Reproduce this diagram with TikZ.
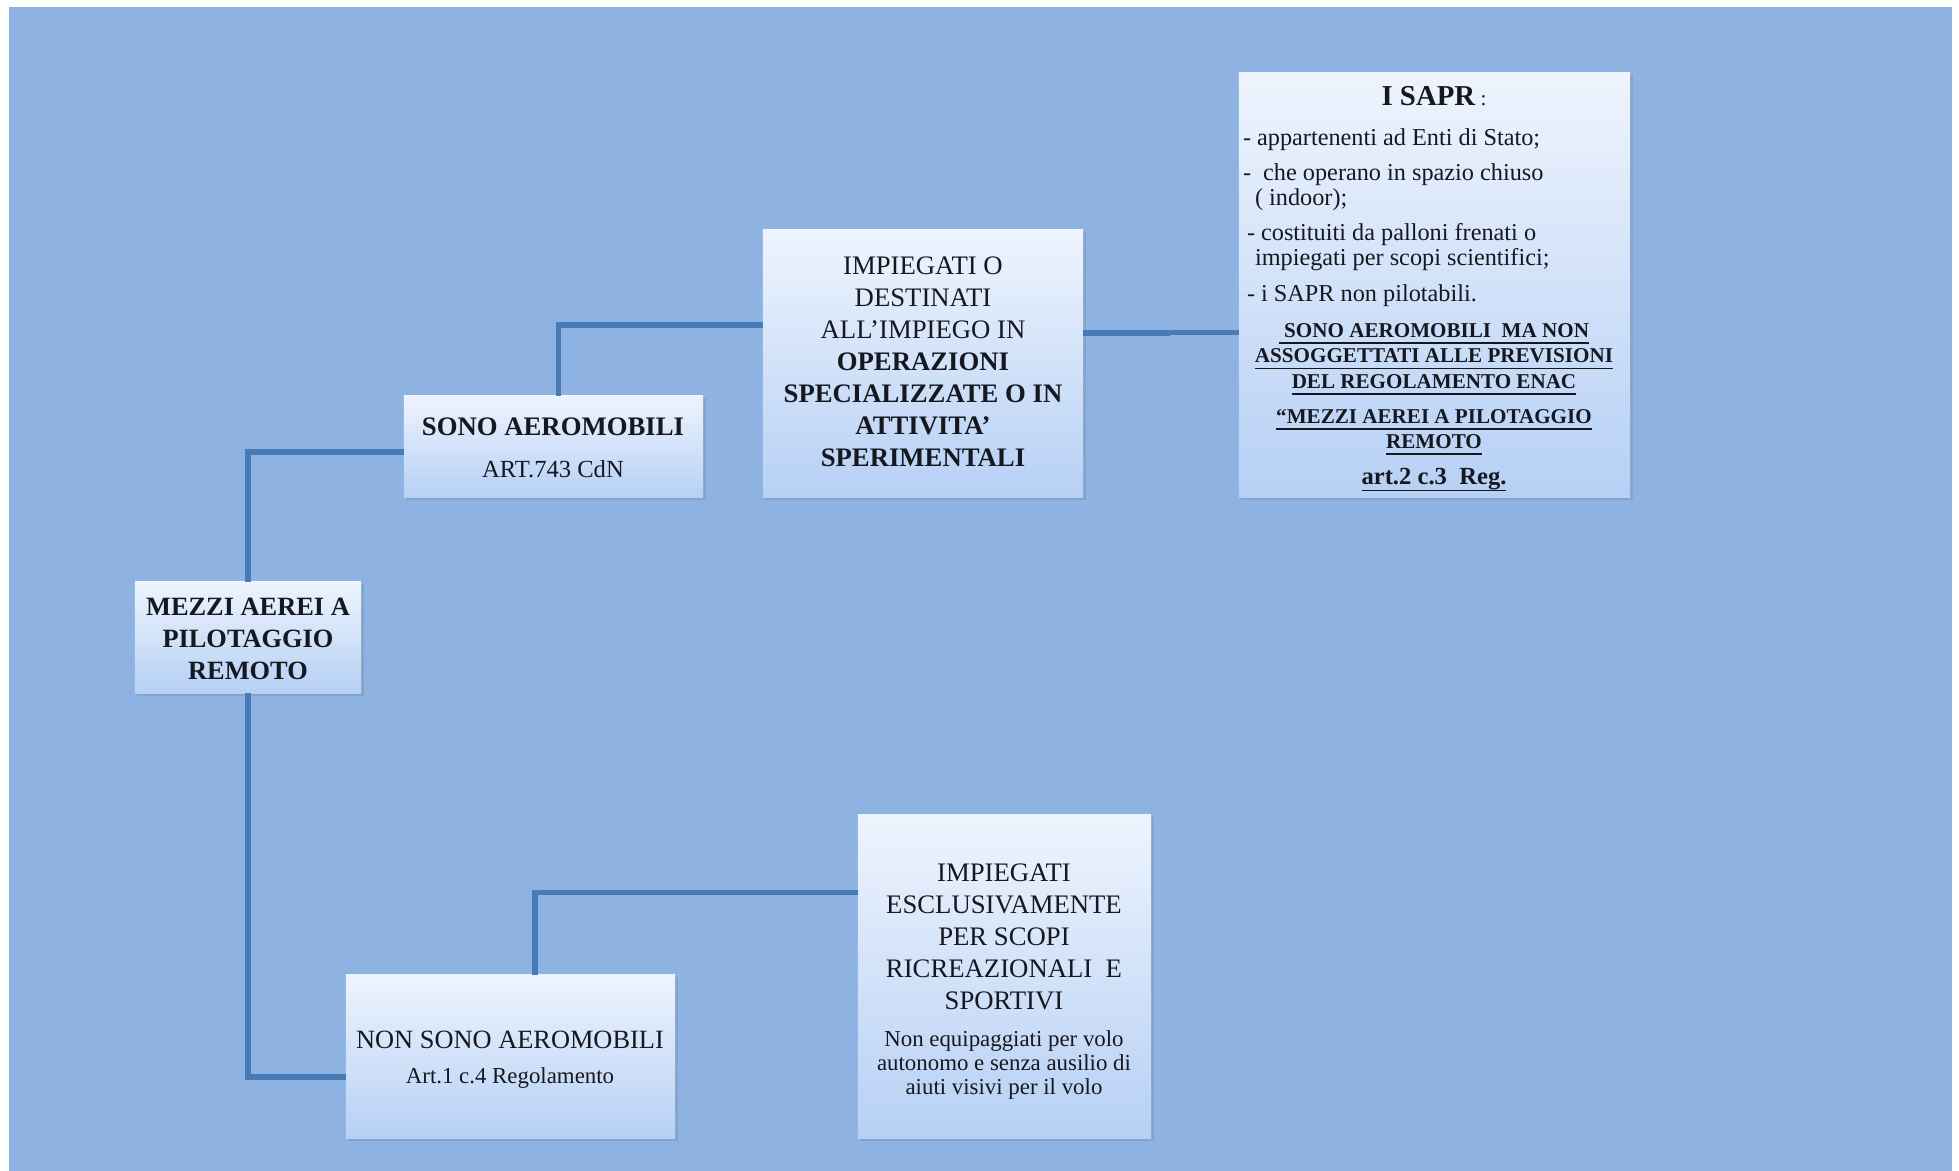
\documentclass[tikz,border=0pt]{standalone}
\usepackage{fontspec}
\setmainfont{Liberation Serif}
\usetikzlibrary{shadows}
\definecolor{bg}{RGB}{142,178,225}
\definecolor{boxtop}{RGB}{238,244,253}
\definecolor{boxbot}{RGB}{182,208,245}
\definecolor{linecol}{RGB}{72,122,182}
\definecolor{ink}{RGB}{22,24,32}
\begin{document}
\begin{tikzpicture}[x=0.01cm,y=-0.01cm,
  box/.style={rectangle, inner sep=0pt, outer sep=0pt, top color=boxtop, bottom color=boxbot, draw=none,
    drop shadow={opacity=0.18, shadow xshift=0.025cm, shadow yshift=-0.025cm, fill=black!60}},
  conn/.style={draw=linecol, line width=1.45pt},
  txt/.style={text=ink, inner sep=0pt, outer sep=0pt, align=center},
  big/.style={font=\fontsize{7.6pt}{9.1pt}\selectfont},
  small/.style={font=\fontsize{6.9pt}{7.1pt}\selectfont},
  ubold/.style={font=\bfseries\fontsize{6pt}{7pt}\selectfont}]
\useasboundingbox (0,0) rectangle (1959,1171);
\fill[white] (0,0) rectangle (1959,1171);
\fill[bg] (9,7) rectangle (1952,1171);

% boxes
\node[box, minimum width=2.26cm, minimum height=1.11cm] (mezzi) at (248,637.5) {};
\node[box, minimum width=2.99cm, minimum height=1.01cm] (sono) at (553.5,446.5) {};
\node[box, minimum width=3.20cm, minimum height=2.67cm] (impO) at (923,363.5) {};
\node[box, minimum width=3.91cm, minimum height=4.25cm] (sapr) at (1434.5,285) {};
\node[box, minimum width=3.29cm, minimum height=1.63cm] (nonsono) at (510.5,1056.5) {};
\node[box, minimum width=2.93cm, minimum height=3.23cm] (ricre) at (1004.5,976.5) {};

% connectors
\draw[conn] (mezzi.north) |- ([yshift=-0.055cm]sono.west);
\draw[conn] ([xshift=0.05cm]sono.north) |- ([yshift=0.385cm]impO.west);
\draw[conn] ([yshift=0.305cm]impO.east) -- ++(0.84cm,0) |- ([yshift=-0.475cm]sapr.west);
\draw[conn] (mezzi.south) |- ([yshift=-0.205cm]nonsono.west);
\draw[conn] ([xshift=0.245cm]nonsono.north) |- ([yshift=0.835cm]ricre.west);

% texts
\node[txt, font=\bfseries\fontsize{7.5pt}{9.1pt}\selectfont] (tmezzi) at (248,639) {MEZZI AEREI A\\PILOTAGGIO\\REMOTO};

\node[txt, font=\bfseries\fontsize{7.6pt}{9pt}\selectfont] (tsono1) at (553,427) {SONO AEROMOBILI};
\node[txt, font=\fontsize{7pt}{8pt}\selectfont] (tsono2) at (553,469) {ART.743 CdN};

\node[txt, big] (timpO) at (923,362) {IMPIEGATI O\\DESTINATI\\ALL’IMPIEGO IN\\\textbf{OPERAZIONI}\\\textbf{SPECIALIZZATE O IN}\\\textbf{ATTIVITA’}\\\textbf{SPERIMENTALI}};

\node[txt, anchor=base, font=\bfseries\fontsize{8.2pt}{9pt}\selectfont] (tsapr) at (1434,106) {I SAPR{\mdseries\fontsize{6pt}{7pt}\selectfont\ :}};
\node[txt, anchor=base west, small] (s1) at (1243,146) {- appartenenti ad Enti di Stato;};
\node[txt, anchor=base west, small] (s2) at (1243,181) {-\ \ che operano in spazio chiuso};
\node[txt, anchor=base west, small] (s3) at (1255,206) {( indoor);};
\node[txt, anchor=base west, small] (s4) at (1247,241) {- costituiti da palloni frenati o};
\node[txt, anchor=base west, small] (s5) at (1255,266) {impiegati per scopi scientifici;};
\node[txt, anchor=base west, small] (s6) at (1247,302) {- i SAPR non pilotabili.};
\node[txt, anchor=base, ubold] (u1) at (1434,338) {\underline{\ SONO AEROMOBILI\ \ MA NON}};
\node[txt, anchor=base, ubold] (u2) at (1434,363) {\underline{ASSOGGETTATI ALLE PREVISIONI}};
\node[txt, anchor=base, ubold] (u3) at (1434,389) {\underline{DEL REGOLAMENTO ENAC}};
\node[txt, anchor=base, ubold] (u4) at (1434,424) {\underline{“MEZZI AEREI A PILOTAGGIO}};
\node[txt, anchor=base, ubold] (u5) at (1434,449) {\underline{REMOTO}};
\node[txt, anchor=base, font=\bfseries\fontsize{7pt}{8pt}\selectfont] (u6) at (1434,485) {\underline{art.2 c.3\ \ Re\smash{g}.}};

\node[txt, font=\fontsize{7.5pt}{9pt}\selectfont] (tnon1) at (510,1040) {NON SONO AEROMOBILI};
\node[txt, font=\fontsize{6.5pt}{8pt}\selectfont] (tnon2) at (510,1078) {Art.1 c.4 Regolamento};

\node[txt, big] (tric1) at (1004,937) {IMPIEGATI\\ESCLUSIVAMENTE\\PER SCOPI\\RICREAZIONALI\ \ E\\SPORTIVI};
\node[txt, font=\fontsize{6.5pt}{6.8pt}\selectfont] (tric2) at (1004,1065) {Non equipaggiati per volo\\autonomo e senza ausilio di\\aiuti visivi per il volo};
\end{tikzpicture}
\end{document}
